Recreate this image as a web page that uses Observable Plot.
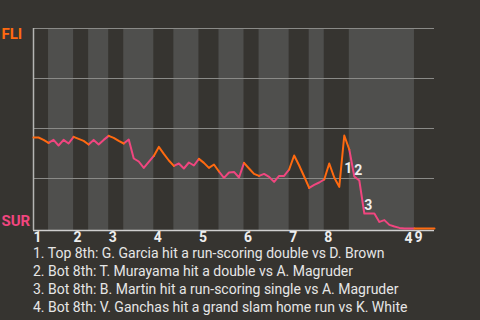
<!DOCTYPE html>
<html>
<head>
<meta charset="utf-8">
<script src="https://cdn.jsdelivr.net/npm/d3@7"></script>
<script src="https://cdn.jsdelivr.net/npm/@observablehq/plot@0.6"></script>
<style>
  html, body { margin: 0; padding: 0; background: #363430; width: 480px; height: 320px; overflow: hidden; }
  #chart svg { display: block; }
  #notes { font-family: Roboto, sans-serif; font-size: 14px; line-height: 18px; color: #e6e6e6; padding-left: 33px; white-space: nowrap; }
</style>
</head>
<body>
<div id="chart"></div>
<div id="notes"></div>
<script>
// FLI win probability after each play (0 = start of game)
const winProb = [
  0.455, 0.455, 0.443, 0.428, 0.443, 0.415, 0.443, 0.425, 0.458, 0.448,
  0.438, 0.420, 0.443, 0.420, 0.443, 0.463, 0.453, 0.438, 0.425, 0.445,
  0.350, 0.335, 0.303, 0.333, 0.363, 0.408, 0.373, 0.340, 0.313, 0.325,
  0.300, 0.330, 0.315, 0.348, 0.328, 0.303, 0.320, 0.285, 0.253, 0.280,
  0.283, 0.255, 0.328, 0.300, 0.273, 0.263, 0.273, 0.258, 0.233, 0.263,
  0.263, 0.295, 0.365, 0.315, 0.260, 0.203, 0.218, 0.230, 0.245, 0.325,
  0.255, 0.208, 0.465, 0.395, 0.260, 0.240, 0.075, 0.075, 0.075, 0.033,
  0.042, 0.018, 0.010, 0.003, 0.000, 0.000, 0.000, 0.000, 0.000, 0.000,
  0.000
];
// play index where each half-inning starts (last = end of game)
const halfBounds = [0, 3, 8, 11, 15, 18, 24, 28, 33, 37, 42, 45, 51, 55, 58, 63, 76, 80];
const inningStarts = [0, 8, 15, 24, 33, 42, 51, 58, 76];
const inningLabels = ["1", "2", "3", "4", "5", "6", "7", "8", "9"];
const teams = ["FLI", "SUR"];
const teamColors = ["#ff6a10", "#f0467f"];
const notePlays = [62, 64, 66, 74];
const noteLabelY = [0.279, 0.269, 0.095, -0.07];
const noteLabels = ["1", "2", "3", "4"];
const notes = [
  "1. Top 8th: G. Garcia hit a run-scoring double vs D. Brown",
  "2. Bot 8th: T. Murayama hit a double vs A. Magruder",
  "3. Bot 8th: B. Martin hit a run-scoring single vs A. Magruder",
  "4. Bot 8th: V. Ganchas hit a grand slam home run vs K. White"
];

const segments = [];
const stripes = [];
for (let h = 0; h < halfBounds.length - 1; h++) {
  const s = halfBounds[h], e = halfBounds[h + 1];
  for (let i = s; i <= e; i++) segments.push({i, p: winProb[i], half: h, top: h % 2 === 0});
  if (h % 2 === 1) stripes.push({x1: s, x2: e});
}
const annotations = notePlays.map((i, k) => ({i, y: noteLabelY[k], label: noteLabels[k]}));

const chart = Plot.plot({
  width: 480,
  height: 244,
  marginLeft: 33,
  marginRight: 46,
  marginTop: 28,
  marginBottom: 16,
  style: {background: "transparent", fontFamily: "Roboto, sans-serif", color: "#eeeeee"},
  x: {domain: [0, 80], label: null},
  y: {domain: [0, 1], axis: null, label: null},
  marks: [
    Plot.rect(stripes, {x1: "x1", x2: "x2", fill: "#4f4f4d", insetBottom: -2}),
    Plot.ruleY([0.25, 0.5, 0.75, 1], {stroke: "#8a8a87", strokeWidth: 1}),
    Plot.ruleY([0], {stroke: "#cfcfcf", strokeWidth: 1.5, dy: 2}),
    Plot.ruleX([0], {stroke: "#b5b5b3", strokeWidth: 1.5, insetBottom: -2}),
    Plot.line(segments.filter(d => !d.top), {x: "i", y: "p", z: "half", stroke: teamColors[1], strokeWidth: 2, curve: "linear"}),
    Plot.line(segments.filter(d => d.top), {x: "i", y: "p", z: "half", stroke: teamColors[0], strokeWidth: 2, curve: "linear"}),
    Plot.axisX({ticks: inningStarts, tickFormat: d => inningLabels[inningStarts.indexOf(d)], tickSize: 0, tickPadding: 4,
      textAnchor: "start", fontSize: 14, fontWeight: "bold", fill: "#eeeeee", label: null}),
    Plot.text(annotations, {x: "i", y: "y", text: "label", textAnchor: "start", lineAnchor: "bottom",
      fontSize: 14, fontWeight: "bold", fill: "#eeeeee"}),
    Plot.text([teams[0]], {x: 0, y: 1, text: d => d, textAnchor: "start", lineAnchor: "top", dx: -32, dy: -0.5,
      fontSize: 15, fontWeight: "bold", fill: teamColors[0]}),
    Plot.text([teams[1]], {x: 0, y: 0, text: d => d, textAnchor: "start", lineAnchor: "bottom", dx: -32, dy: -3,
      fontSize: 15, fontWeight: "bold", fill: teamColors[1]})
  ]
});
document.getElementById("chart").appendChild(chart);
const notesDiv = document.getElementById("notes");
notes.forEach(t => { const d = document.createElement("div"); d.textContent = t; notesDiv.appendChild(d); });
</script>
</body>
</html>
